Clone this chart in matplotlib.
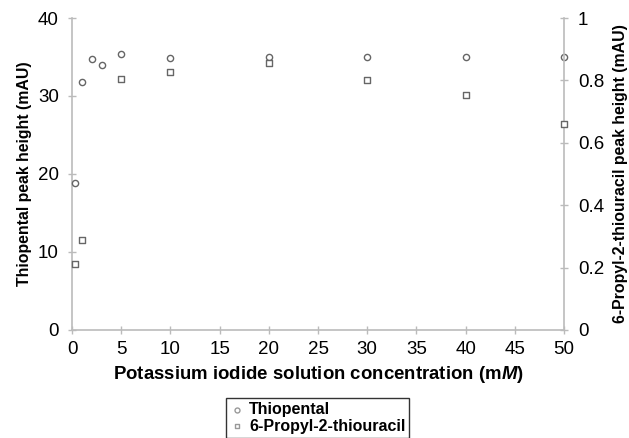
import matplotlib
matplotlib.use("Agg")
import matplotlib.pyplot as plt

conc_thio = [0.3, 1, 2, 3, 5, 10, 20, 30, 40, 50]
thiopental = [18.8, 31.8, 34.7, 34.0, 35.4, 34.9, 35.0, 35.0, 35.0, 35.0]
conc_ptu = [0.3, 1, 5, 10, 20, 30, 40, 50]
ptu = [0.21, 0.29, 0.805, 0.827, 0.856, 0.80, 0.753, 0.66]

x_ticks = list(range(0, 55, 5))
yl_ticks = [0, 10, 20, 30, 40]
yr_ticks = [0, 0.2, 0.4, 0.6, 0.8, 1]
yr_labels = ["0", "0.2", "0.4", "0.6", "0.8", "1"]

plt.rcParams['font.family'] = ['Liberation Sans', 'DejaVu Sans']
plt.rcParams['mathtext.fontset'] = 'custom'
plt.rcParams['mathtext.bfit'] = 'Liberation Sans:bold:italic'
fig = plt.figure(figsize=(6.29, 4.38), dpi=100)
ax = fig.add_axes([0.1145, 0.2466, 0.7822, 0.7123])
ax2 = ax.twinx()

spine_c = '#bbbbbb'
mc = '#666666'
h1 = ax.scatter(conc_thio, thiopental, marker='o', s=20, facecolors='white',
                edgecolors=mc, linewidths=1.0, zorder=3, label='Thiopental',
                clip_on=False)
h2 = ax2.scatter(conc_ptu, ptu, marker='s', s=20, facecolors='white',
                 edgecolors=mc, linewidths=1.0, zorder=3, label='6-Propyl-2-thiouracil',
                 clip_on=False)

ax.set_xlim(0, 50)
ax.set_ylim(0, 40)
ax2.set_ylim(0, 1)
ax.set_xticks(x_ticks)
ax.set_yticks(yl_ticks)
ax2.set_yticks(yr_ticks)
ax2.set_yticklabels(yr_labels)

for a in (ax, ax2):
    a.spines['top'].set_visible(False)
    for s in ('left', 'bottom', 'right'):
        a.spines[s].set_color(spine_c)
        a.spines[s].set_linewidth(1.2)
    a.tick_params(direction='inout', length=6, width=1, color=spine_c,
                  labelsize=13.5, labelcolor='black')
ax.tick_params(axis='x', pad=5)
ax.tick_params(axis='y', pad=6.5)
ax2.tick_params(axis='y', pad=7)
ax.spines['right'].set_visible(False)
ax2.spines['left'].set_visible(False)
ax2.spines['bottom'].set_visible(False)

ax.set_xlabel('Potassium iodide solution concentration (m$\\boldsymbol{M}$)',
              fontsize=13.4, fontweight='bold', labelpad=4)
ax.set_ylabel('Thiopental peak height (mAU)', fontsize=11.4, fontweight='bold')
ax2.set_ylabel('6-Propyl-2-thiouracil peak height (mAU)', fontsize=11.4,
               fontweight='bold')
ycen = 1 - 174 / 438
ax.yaxis.set_label_coords(25 / 629, ycen, transform=fig.transFigure)
ax2.yaxis.set_label_coords(621 / 629, ycen, transform=fig.transFigure)
ax.yaxis.label.set_verticalalignment('center')
ax2.yaxis.label.set_verticalalignment('center')

leg = fig.legend(handles=[h1, h2], loc='upper center',
                 bbox_to_anchor=(317.5 / 629, 1 - 398 / 438),
                 frameon=True, fancybox=False, edgecolor='black',
                 prop={'weight': 'bold', 'size': 11.5}, handletextpad=0.3,
                 borderpad=0.25, labelspacing=0.1, handlelength=0.9,
                 markerscale=0.8, borderaxespad=0)
leg.get_frame().set_linewidth(1.0)
for hnd in leg.legend_handles:
    hnd.set_edgecolor('#999999')

fig.savefig('out.png', dpi=100)
